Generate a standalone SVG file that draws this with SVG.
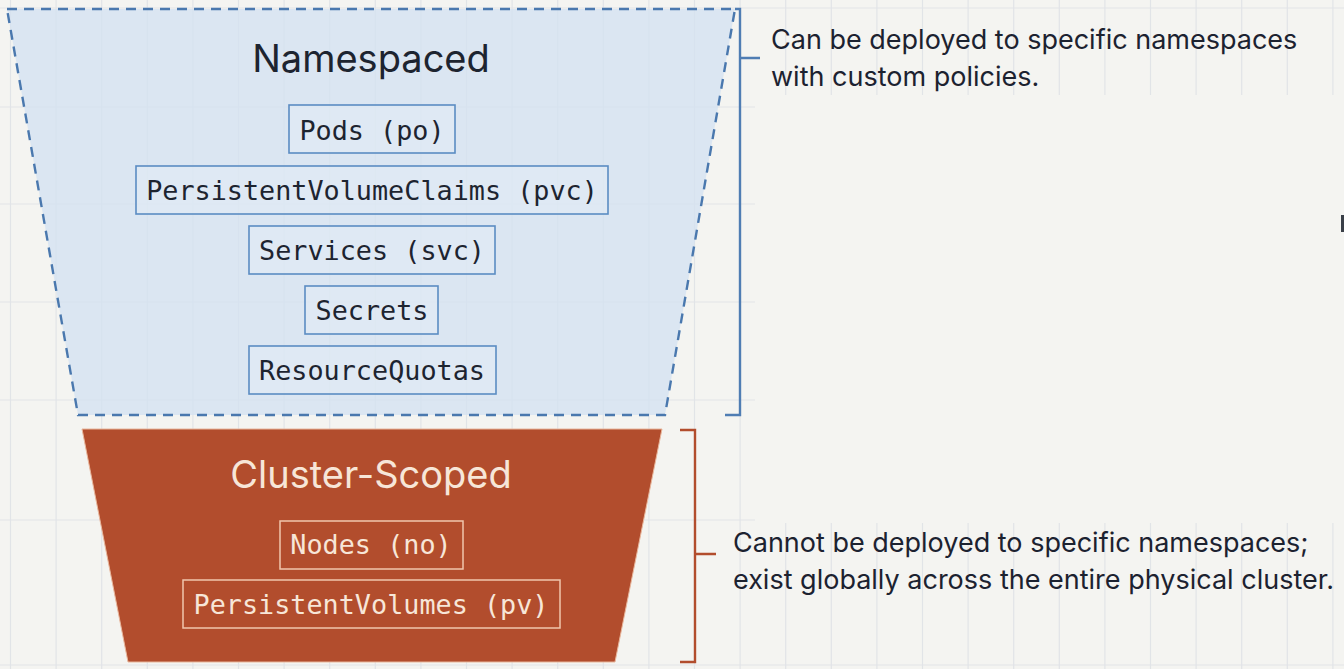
<svg xmlns="http://www.w3.org/2000/svg" width="1344" height="669" viewBox="0 0 1344 669">
<style>
  .grid line { stroke: #e1e4e7; stroke-width: 1.2; }
  .title { font-family: Inter, "Liberation Sans", sans-serif; font-size: 38px; text-anchor: middle; }
  .mono { font-family: "DejaVu Sans Mono", "Liberation Mono", monospace; font-size: 26.8px; text-anchor: middle; }
  .nsbox { fill: #e4edf7; fill-opacity: 0.45; stroke: #5b8cc2; stroke-width: 1.6; }
  .nstext { fill: #1d2430; }
  .clbox { fill: none; stroke: #f1c6ad; stroke-width: 1.5; }
  .cltext { fill: #f7e6d8; }
  .note { font-family: Inter, "Liberation Sans", sans-serif; font-size: 27px; fill: #1c2230; }
  .brk-blue { fill: none; stroke: #4f7db3; stroke-width: 2.4; }
  .brk-red { fill: none; stroke: #b24d2d; stroke-width: 2.4; }
</style>
<rect width="1344" height="669" fill="#f4f4f1"/>
<g class="grid">
  <line x1="10.5" y1="0" x2="10.5" y2="669"/><line x1="56.1" y1="0" x2="56.1" y2="669"/>
  <line x1="101.7" y1="0" x2="101.7" y2="669"/><line x1="147.3" y1="0" x2="147.3" y2="669"/>
  <line x1="192.9" y1="0" x2="192.9" y2="669"/><line x1="238.5" y1="0" x2="238.5" y2="669"/>
  <line x1="284.1" y1="0" x2="284.1" y2="669"/><line x1="329.7" y1="0" x2="329.7" y2="669"/>
  <line x1="375.3" y1="0" x2="375.3" y2="669"/><line x1="420.9" y1="0" x2="420.9" y2="669"/>
  <line x1="466.5" y1="0" x2="466.5" y2="669"/><line x1="512.1" y1="0" x2="512.1" y2="669"/>
  <line x1="557.7" y1="0" x2="557.7" y2="669"/><line x1="603.3" y1="0" x2="603.3" y2="669"/>
  <line x1="648.9" y1="0" x2="648.9" y2="669"/><line x1="694.5" y1="0" x2="694.5" y2="669"/>
  <line x1="740.1" y1="0" x2="740.1" y2="669"/><line x1="785.7" y1="0" x2="785.7" y2="669"/>
  <line x1="831.3" y1="0" x2="831.3" y2="669"/><line x1="876.9" y1="0" x2="876.9" y2="669"/>
  <line x1="922.5" y1="0" x2="922.5" y2="669"/><line x1="968.1" y1="0" x2="968.1" y2="669"/>
  <line x1="1013.7" y1="0" x2="1013.7" y2="669"/><line x1="1059.3" y1="0" x2="1059.3" y2="669"/>
  <line x1="1104.9" y1="0" x2="1104.9" y2="669"/><line x1="1150.5" y1="0" x2="1150.5" y2="669"/>
  <line x1="1196.1" y1="0" x2="1196.1" y2="669"/><line x1="1241.7" y1="0" x2="1241.7" y2="669"/>
  <line x1="1287.3" y1="0" x2="1287.3" y2="669"/><line x1="1332.9" y1="0" x2="1332.9" y2="669"/>
  <line x1="0" y1="8" x2="1344" y2="8"/><line x1="0" y1="107" x2="1344" y2="107"/>
  <line x1="0" y1="204" x2="1344" y2="204"/><line x1="0" y1="302" x2="1344" y2="302"/>
  <line x1="0" y1="400" x2="1344" y2="400"/><line x1="0" y1="520" x2="1344" y2="520"/>
  <line x1="0" y1="665" x2="1344" y2="665"/>
</g>
<rect x="755" y="95" width="589" height="428" fill="#f4f4f1"/>
<rect x="1341" y="215" width="3" height="17" fill="#3a3f48"/>

<g id="namespaced">
  <polygon points="7,9 735,9 665,415 78,415" fill="#d3e2f2" fill-opacity="0.75" stroke="#4a78ae" stroke-width="2.4" stroke-dasharray="10,7"/>
  <text class="title nstext" x="371" y="72">Namespaced</text>
  <g id="pods"><rect class="nsbox" x="289" y="105" width="166" height="48"/><text class="mono nstext" x="372" y="140">Pods (po)</text></g>
  <g id="pvc"><rect class="nsbox" x="136" y="166" width="472" height="48"/><text class="mono nstext" x="372" y="200">PersistentVolumeClaims (pvc)</text></g>
  <g id="svc"><rect class="nsbox" x="249" y="226" width="246" height="48"/><text class="mono nstext" x="372" y="260">Services (svc)</text></g>
  <g id="secrets"><rect class="nsbox" x="305" y="286" width="133" height="48"/><text class="mono nstext" x="372" y="320">Secrets</text></g>
  <g id="rq"><rect class="nsbox" x="249" y="346" width="247" height="48"/><text class="mono nstext" x="372" y="380">ResourceQuotas</text></g>
</g>

<g id="cluster-scoped">
  <polygon points="82,429 662,429 615,662 128,662" fill="#b24d2d" stroke="#e9b79c" stroke-width="1"/>
  <text class="title cltext" x="371" y="488">Cluster-Scoped</text>
  <g id="nodes"><rect class="clbox" x="280" y="521" width="183" height="48"/><text class="mono cltext" x="371" y="554">Nodes (no)</text></g>
  <g id="pv"><rect class="clbox" x="183" y="580" width="377" height="48"/><text class="mono cltext" x="371" y="614">PersistentVolumes (pv)</text></g>
</g>

<g id="connectors">
  <path class="brk-blue" d="M735,9 H740 V415 H725 M740,58 H760"/>
  <path class="brk-red" d="M680,430 H695 V662 H680 M695,554 H716"/>
</g>

<g id="note-namespaced">
  <text class="note" x="771" y="49">Can be deployed to specific namespaces</text>
  <text class="note" x="771" y="86">with custom policies.</text>
</g>
<g id="note-cluster">
  <text class="note" x="733" y="552">Cannot be deployed to specific namespaces;</text>
  <text class="note" x="733" y="589">exist globally across the entire physical cluster.</text>
</g>
</svg>
